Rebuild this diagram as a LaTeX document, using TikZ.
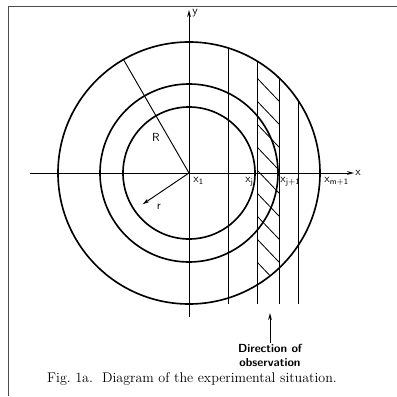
\documentclass[tikz,border=0pt]{standalone}
\usepackage{amsmath}
\usepackage{tikz}
\usetikzlibrary{arrows.meta, positioning, calc}

\begin{document}
\begin{tikzpicture}[
  x=0.03cm, y=0.03cm,
  ring/.style={line width=1.4pt},
  axis/.style={line width=0.8pt},
  vline/.style={line width=0.8pt},
  hatch/.style={line width=0.7pt},
  arr/.style={-{Stealth[length=6pt, width=3.2pt]}, line width=0.8pt},
  lbl/.style={font=\sffamily, inner sep=1pt},
  frame/.style={line width=0.8pt, color=black!70}
]
  \useasboundingbox (-189,-223) rectangle (208,173);

  % Frame
  \coordinate (fl) at (-181,-223);
  \coordinate (ft) at (-181,167);
  \coordinate (fr) at (208,167);
  \draw[frame] (fl) -- (ft) -- (fr);

  % Centre and circles
  \coordinate (O) at (0,0);
  \draw[ring] (O) circle (131);
  \draw[ring] (O) circle (89);
  \draw[ring] (O) circle (66);

  % Hatched strip
  \begin{scope}
    \clip (O) circle (131);
    \clip (68,-140) rectangle (90,140);
    \foreach \k in {-9,...,1}
      \draw[hatch] (60, 95+23*\k+8.4) -- ++(40,-42);
  \end{scope}

  % Vertical lines
  \foreach \xv/\nm in {39/a, 68/b, 90/c, 109/d} {
    \coordinate (\nm top) at ({\xv}, {131*sqrt(1-(\xv/131)^2)});
    \coordinate (\nm bot) at ({\xv}, -131);
    \draw[vline] (\nm top) -- (\nm bot);
  }

  % Axes
  \coordinate (xs) at (-159,0);
  \coordinate (xe) at (165,0);
  \coordinate (ys) at (0,-144);
  \coordinate (ye) at (0,163);
  \draw[arr] (xs) -- (xe);
  \draw[arr] (ys) -- (ye);
  \node[lbl, anchor=west] (xlab) at (xe) {x};
  \node[lbl, anchor=west] (ylab) at (2,160) {y};

  % Radii
  \coordinate (Rend) at (120:131);
  \coordinate (rend) at (214:56);
  \draw[vline] (O) -- (Rend);
  \draw[arr] (O) -- (rend);
  \node[lbl] (Rlab) at (-33,36) {R};
  \node[lbl] (rlab) at (-30,-34) {r};

  % Positions on the x axis
  \node[lbl, anchor=north west] (x1)  at (3,-3)   {$\mathsf{x_1}$};
  \node[lbl, anchor=north east] (xj)  at (66,-3)  {$\mathsf{x_j}$};
  \node[lbl, anchor=north west] (xj1) at (90,-3)  {$\mathsf{x_{j+1}}$};
  \node[lbl, anchor=north west] (xm1) at (134,-3) {$\mathsf{x_{m+1}}$};

  % Direction of observation
  \coordinate (obtip) at (81,-140);
  \node[lbl, align=center, anchor=north, font=\sffamily\bfseries] (obs) at (81,-170)
        {Direction of\\observation};
  \draw[arr] (obs.north) -- (obtip);

  % Caption
  \node[font=\fontsize{12}{14}\selectfont] (cap) at (3,-206)
        {Fig.~1a.\ \ Diagram of the experimental situation.};

\end{tikzpicture}
\end{document}
